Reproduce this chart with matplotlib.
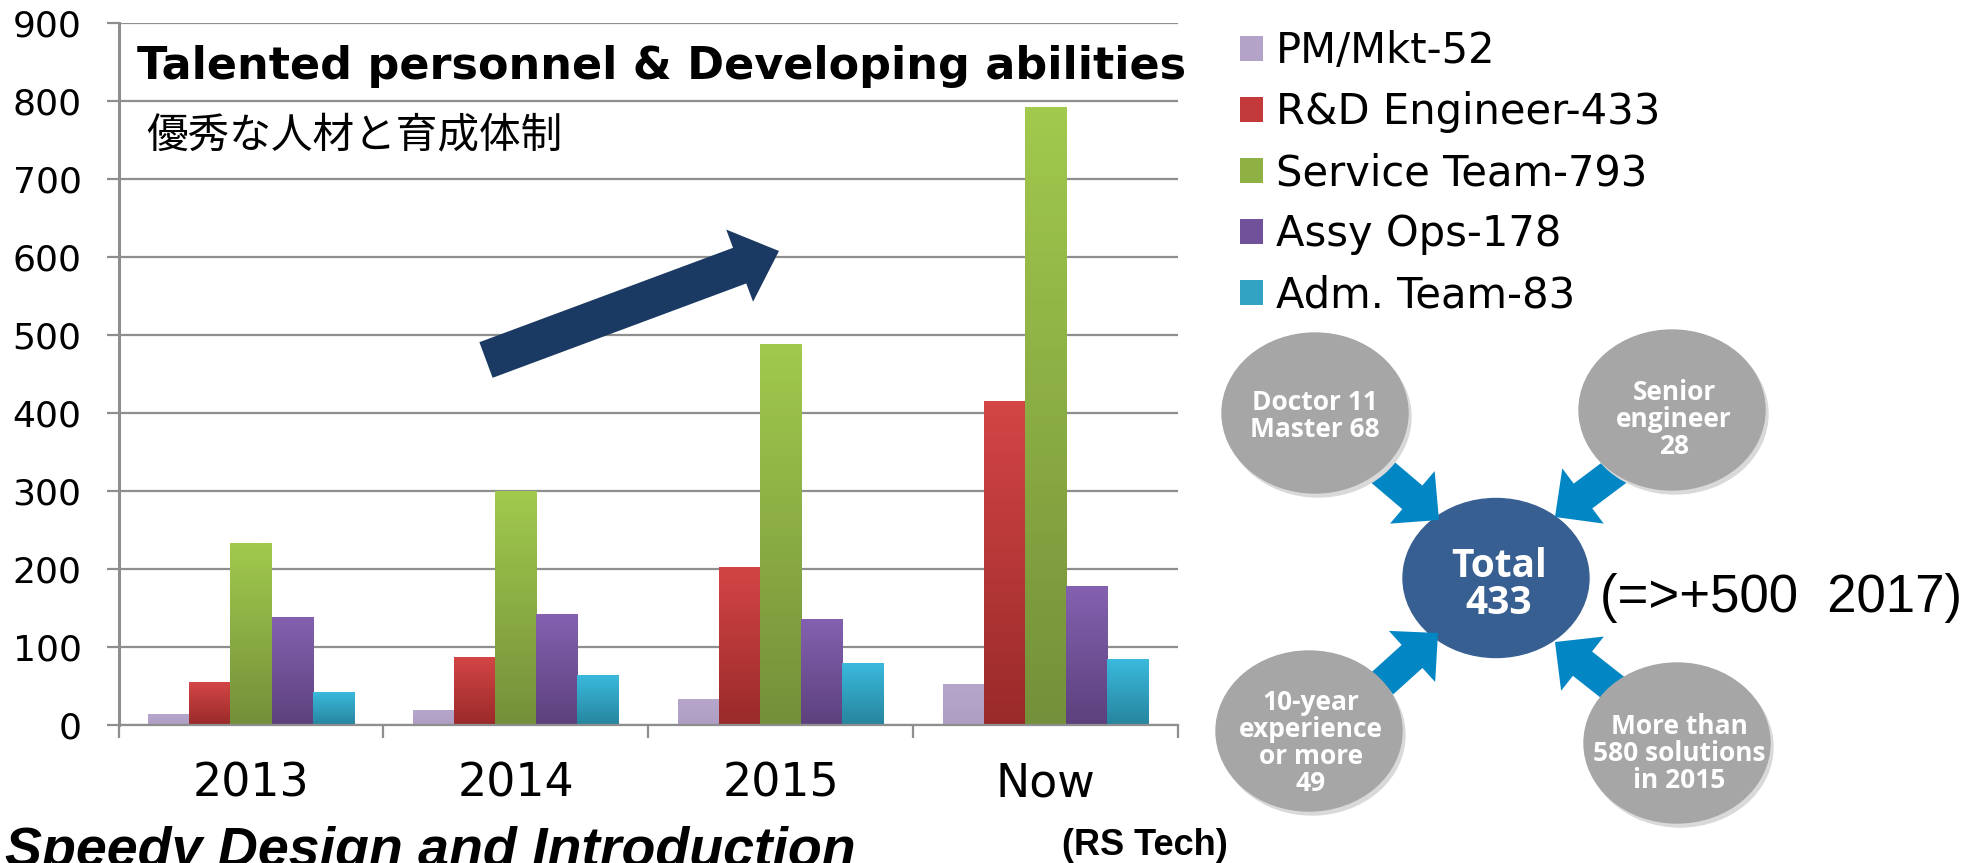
import numpy as np
import matplotlib
matplotlib.use("Agg")
import matplotlib.pyplot as plt
from matplotlib.colors import LinearSegmentedColormap
from matplotlib.patches import Ellipse, FancyArrow

# data
years = ["2013", "2014", "2015", "Now"]
groups = ["PM/Mkt-52", "R&D Engineer-433", "Service Team-793", "Assy Ops-178", "Adm. Team-83"]
pm = [13, 19, 33, 52]
rnd = [55, 86, 202, 415]
service = [233, 300, 488, 792]
assy = [138, 142, 135, 178]
adm = [42, 63, 79, 84]
yticks = [0, 100, 200, 300, 400, 500, 600, 700, 800, 900]

title = "Talented personnel & Developing abilities"
subtitle = "優秀な人材と育成体制"
bubble_texts = ["Doctor 11\nMaster 68", "Senior\nengineer\n28",
                "10-year\nexperience\nor more\n49", "More than\n580 solutions\nin 2015"]
center_text = "Total\n433"
note = "(=>+500  2017)"
source = "(RS Tech)"
footer = "Speedy Design and Introduction"

top_cols = ["#b6a6cb", "#d34545", "#a1c94d", "#8461b0", "#3ab9dc"]
bot_cols = ["#ae9ec3", "#9a2a2a", "#74903a", "#5c417d", "#27859f"]
mid_cols = ["#b3a3c8", "#c23a3a", "#8fb144", "#71519a", "#33a3c3"]
grid_c = "#8e8e8e"

W, H = 1969, 863
fig = plt.figure(figsize=(W / 100, H / 100), dpi=100)
ax = fig.add_axes([118.6 / W, 1 - 725 / H, (1178 - 118.6) / W, (725 - 23) / H])

series = [pm, rnd, service, assy, adm]
x = np.arange(len(years))
bw = 0.155
grad = np.linspace(0, 1, 64).reshape(-1, 1)
containers = []
for i, vals in enumerate(series):
    bars = ax.bar(x + (i - 2) * bw, vals, bw, color=mid_cols[i], zorder=2, linewidth=0)
    containers.append(bars)
    cm = LinearSegmentedColormap.from_list("g%d" % i, [bot_cols[i], top_cols[i]])
    for r in bars:
        ax.imshow(grad, extent=(r.get_x(), r.get_x() + r.get_width(), 0, r.get_height()),
                  cmap=cm, aspect="auto", origin="lower", zorder=2.1)

ax.set_xlim(-0.5, 3.5)
ax.set_ylim(0, 900)
ax.set_axisbelow(True)
ax.yaxis.grid(True, color=grid_c, linewidth=1.6)
ax.set_yticks(yticks)
ax.set_yticklabels([str(v) for v in yticks])
ax.set_xticks(x)
ax.set_xticklabels(years)
ax.set_xticks([-0.5, 0.5, 1.5, 2.5, 3.5], minor=True)
ax.tick_params(axis="y", length=8.6, width=1.6, color=grid_c, pad=18, labelsize=26)
ax.tick_params(axis="x", which="major", length=0, pad=26, labelsize=33)
ax.tick_params(axis="x", which="minor", length=9.4, width=1.6, color=grid_c)
for s in ["top", "right"]:
    ax.spines[s].set_visible(False)
ax.spines["left"].set_color(grid_c)
ax.spines["left"].set_linewidth(2.2)
ax.spines["bottom"].set_color(grid_c)
ax.spines["bottom"].set_linewidth(1.6)

fig.legend(containers, groups, loc="upper left", bbox_to_anchor=(1240 / W, 1 - 30 / H),
           frameon=False, fontsize=30, handlelength=0.55, handleheight=0.55,
           handletextpad=0.32, labelspacing=0.46, borderpad=0, borderaxespad=0)

# overlay in pixel units for the annotations and the diagram
ov = fig.add_axes([0, 0, 1, 1])
ov.set_xlim(0, W)
ov.set_ylim(H, 0)
ov.axis("off")
ov.patch.set_visible(False)

ov.text(137, 79, title, fontsize=32, fontweight="bold", family="DejaVu Sans", va="baseline")
ov.text(146, 136, subtitle, fontsize=30, family=["Noto Sans CJK JP", "DejaVu Sans"], va="center")

ov.add_patch(FancyArrow(486, 360, 293, -109, width=38, head_width=77, head_length=42,
                        length_includes_head=True, color="#1b3a63", linewidth=0))

# diagram
ov.add_patch(Ellipse((1496, 578), 186, 159, color="#375f91", zorder=2))
tips = [(1439, 520), (1555, 517), (1438, 633), (1555, 642)]
dirs = [(26.5, 22.5), (-28, 21), (26, -23.5), (-26, -20.5)]
for (tx, ty), (dx, dy) in zip(tips, dirs):
    n = np.hypot(dx, dy)
    L = 130
    ux, uy = dx / n, dy / n
    ov.add_patch(FancyArrow(tx - L * ux, ty - L * uy, L * ux, L * uy, width=31, head_width=69,
                            head_length=35, length_includes_head=True, color="#0286c4",
                            linewidth=0, zorder=3))

centers = [(1315, 413), (1672, 410), (1309, 731), (1677, 743)]
txt_pos = [(1315, 416), (1674, 419), (1311, 743), (1679, 753)]
for (cx, cy), (px, py), t in zip(centers, txt_pos, bubble_texts):
    ov.add_patch(Ellipse((cx + 3, cy + 4), 186, 160, color="#d9d9d9", zorder=3.5))
    ov.add_patch(Ellipse((cx, cy), 186, 160, color="#a6a6a6", zorder=4))
    ov.text(px, py, t, color="white", fontsize=19, fontweight="bold", family="Open Sans",
            ha="center", va="center", linespacing=1.0, zorder=5)
ov.text(1499, 585, center_text, color="white", fontsize=28, fontweight="bold", family="Open Sans",
        ha="center", va="center", linespacing=0.92, zorder=5)

ov.text(1600, 612, note, fontsize=38, family="Liberation Sans", va="baseline")
ov.text(1062, 855, source, fontsize=26, fontweight="bold", family="Liberation Sans", va="baseline")
ov.text(5, 866, footer, fontsize=40, fontweight="bold", style="italic", family="Liberation Sans",
        va="baseline")

fig.savefig("out.png", dpi=100)
